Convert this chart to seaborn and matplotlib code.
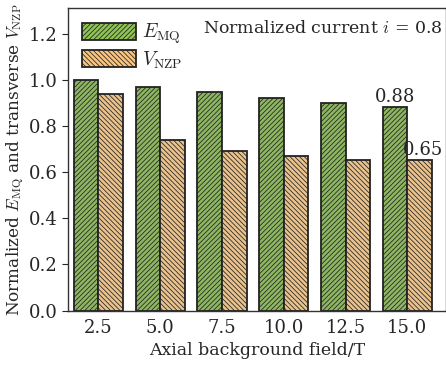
import numpy as np
import pandas as pd
import matplotlib
matplotlib.use("Agg")
import matplotlib.pyplot as plt
import seaborn as sns
from matplotlib.patches import Patch

fields = ["2.5", "5.0", "7.5", "10.0", "12.5", "15.0"]
e_mq = [1.00, 0.97, 0.945, 0.92, 0.90, 0.88]
v_nzp = [0.94, 0.74, 0.69, 0.67, 0.65, 0.65]
series = [r"$E_{\rm MQ}$", r"$V_{\rm NZP}$"]

green = "#8dc453"
orange = "#f9c47e"

df = pd.DataFrame({
    "field": fields * 2,
    "value": e_mq + v_nzp,
    "series": [series[0]] * len(fields) + [series[1]] * len(fields),
})

sns.set_style("ticks")
plt.rcParams["font.family"] = ["DejaVu Serif"]
plt.rcParams["mathtext.fontset"] = "cm"
plt.rcParams["hatch.linewidth"] = 0.55

fig, ax = plt.subplots(figsize=(4.46, 3.71), dpi=100)
sns.barplot(data=df, x="field", y="value", hue="series", order=fields,
            hue_order=series, palette=[green, orange], width=0.8,
            edgecolor="#222222", linewidth=1.3, legend=False, ax=ax)

hatches = ["///////", "\\\\\\\\\\\\\\"]
for cont, h in zip(ax.containers, hatches):
    for bar in cont:
        bar.set_hatch(h)

# value labels on the last group
last_e = ax.containers[0][-1]
last_v = ax.containers[1][-1]
ax.text(last_e.get_x() + last_e.get_width() / 2, e_mq[-1] + 0.005, f"{e_mq[-1]:.2f}",
        ha="center", va="bottom", fontsize=13)
ax.text(last_v.get_x() + last_v.get_width() / 2 + 0.05, v_nzp[-1] + 0.005, f"{v_nzp[-1]:.2f}",
        ha="center", va="bottom", fontsize=13)

ax.text(0.99, 0.96, r"Normalized current $i$ = 0.8", transform=ax.transAxes,
        ha="right", va="top", fontsize=12.5)

handles = [Patch(facecolor=green, edgecolor="#222222", hatch=hatches[0], linewidth=1.3),
           Patch(facecolor=orange, edgecolor="#222222", hatch=hatches[1], linewidth=1.3)]
ax.legend(handles, series, loc="upper left", frameon=False, fontsize=14,
          handlelength=2.8, handleheight=0.95, borderaxespad=0.3, labelspacing=0.15,
          handletextpad=0.3)

ax.set_ylim(0, 1.31)
ax.set_xlim(-0.49, 5.62)
ax.set_yticks(np.arange(0, 1.3, 0.2))
ax.set_yticklabels([f"{v:.1f}" for v in np.arange(0, 1.3, 0.2)])
ax.tick_params(axis="x", length=0, labelsize=13, pad=6)
ax.tick_params(axis="y", length=4, labelsize=13)
ax.set_xlabel("Axial background field/T", fontsize=12.5)
ax.set_ylabel(r"Normalized $E_{\rm MQ}$ and transverse $V_{\rm NZP}$", fontsize=12.2,
              labelpad=2)
for s in ax.spines.values():
    s.set_visible(True)
    s.set_linewidth(1.0)
    s.set_color("#333333")

fig.subplots_adjust(left=0.153, right=0.999, top=0.978, bottom=0.163)
fig.savefig("out.png", dpi=100)
